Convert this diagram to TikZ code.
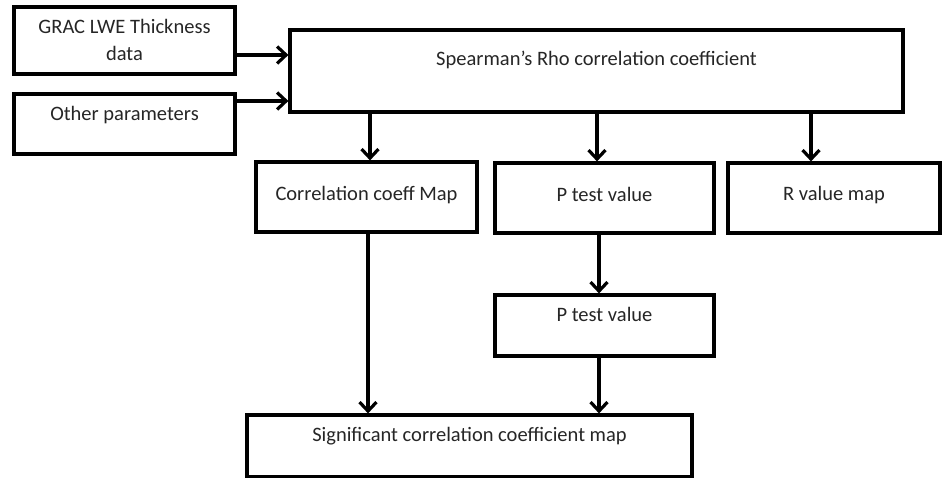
\documentclass[tikz,border=0pt]{standalone}
\usepackage{fontspec}
\setmainfont{Carlito}
\usetikzlibrary{arrows.meta}
\begin{document}
\begin{tikzpicture}[x=1pt,y=1pt,
  box/.style={draw=black,line width=3.2pt,inner sep=0pt,fill=white},
  txt/.style={font=\fontsize{20.5}{27}\selectfont,inner sep=0pt,align=center,text=black!85},
  arr/.style={line width=3.2pt,-{Straight Barb[length=9pt,width=17pt,line width=3.2pt]}}]
\useasboundingbox (0,0) rectangle (942,478);
\node[box,minimum width=221,minimum height=67] (grac) at (124.5,437.5) {};
\node[box,minimum width=221,minimum height=60] (other) at (124.5,354) {};
\node[box,minimum width=613,minimum height=82] (sp) at (596.5,407) {};
\node[box,minimum width=221,minimum height=70] (corr) at (366.5,281) {};
\node[box,minimum width=219,minimum height=70] (pt) at (604.5,280) {};
\node[box,minimum width=212,minimum height=70] (rv) at (834,280) {};
\node[box,minimum width=219,minimum height=61] (pt2) at (604.5,152.5) {};
\node[box,minimum width=445,minimum height=62] (sig) at (469.5,32) {};
\node[txt] (tgrac) at ([yshift=-35]grac.north) {GRAC LWE Thickness\\data};
\node[txt] (tother) at ([yshift=-23]other.north) {Other parameters};
\node[txt] (tsp) at ([yshift=-32]sp.north) {Spearman’s Rho correlation coefficient};
\node[txt] (tcorr) at ([yshift=-35]corr.north) {Correlation coeff Map};
\node[txt] (tpt) at ([yshift=-33]pt.north) {P test value};
\node[txt] (trv) at ([yshift=-34]rv.north) {R value map};
\node[txt] (tpt2) at ([yshift=-21]pt2.north) {P test value};
\node[txt] (tsig) at ([yshift=-23]sig.north) {Significant correlation coefficient map};
\draw[arr] ([yshift=-14.5]grac.east) -- ([yshift=-14.5]grac.east -| sp.west);
\draw[arr] ([yshift=23]other.east) -- ([yshift=23]other.east -| sp.west);
\draw[arr] ([xshift=3.5]corr.north |- sp.south) -- ([xshift=3.5]corr.north);
\draw[arr] ([xshift=-7.5]pt.north |- sp.south) -- ([xshift=-7.5]pt.north);
\draw[arr] ([xshift=-23]rv.north |- sp.south) -- ([xshift=-23]rv.north);
\draw[arr] ([xshift=-5.5]pt.south) -- ([xshift=-5.5]pt2.north);
\draw[arr] ([xshift=1.5]corr.south) -- ([xshift=1.5]corr.south |- sig.north);
\draw[arr] ([xshift=-5.5]pt2.south) -- ([xshift=-5.5]pt2.south |- sig.north);
\end{tikzpicture}
\end{document}
